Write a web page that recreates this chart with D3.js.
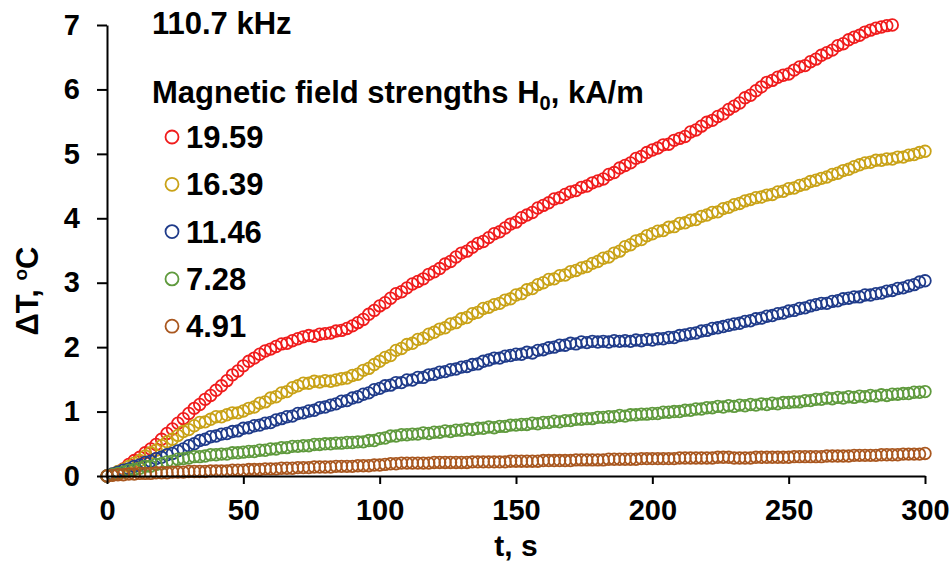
<!DOCTYPE html>
<html>
<head>
<meta charset="utf-8">
<script src="https://cdn.jsdelivr.net/npm/d3@7"></script>
<style>
  body { margin: 0; background: #fff; }
  text { font-family: "Liberation Sans", Arial, sans-serif; font-weight: bold; fill: #000; }
</style>
</head>
<body>
<svg id="chart" width="951" height="565"></svg>
<script>
// Heating curves at 110.7 kHz: temperature rise (°C) sampled every 2 s
const sampleStep = 2;

const fieldLabels = ["19.59", "16.39", "11.46", "7.28", "4.91"];
const seriesColors = ["#f01c1c", "#c9a217", "#1f3b8a", "#5f9a3d", "#a9571f"];

const rise1959 = [
  0.00,0.02,0.05,0.11,0.18,0.24,0.29,0.36,0.42,0.49,
  0.57,0.66,0.73,0.82,0.89,0.97,1.05,1.11,1.19,1.25,
  1.33,1.40,1.48,1.57,1.63,1.71,1.78,1.83,1.89,1.94,
  1.97,2.01,2.05,2.06,2.10,2.13,2.16,2.18,2.17,2.20,
  2.21,2.22,2.25,2.26,2.29,2.33,2.38,2.43,2.51,2.57,
  2.64,2.69,2.76,2.83,2.86,2.92,2.98,3.02,3.06,3.13,
  3.17,3.22,3.29,3.33,3.40,3.46,3.49,3.55,3.61,3.64,
  3.70,3.76,3.79,3.85,3.91,3.94,4.01,4.05,4.09,4.16,
  4.20,4.24,4.30,4.32,4.37,4.41,4.43,4.48,4.50,4.55,
  4.58,4.61,4.68,4.71,4.78,4.82,4.86,4.93,4.96,5.02,
  5.06,5.09,5.14,5.15,5.21,5.24,5.27,5.34,5.37,5.43,
  5.49,5.52,5.58,5.62,5.69,5.74,5.79,5.87,5.91,5.98,
  6.04,6.11,6.14,6.19,6.22,6.24,6.30,6.35,6.37,6.43,
  6.47,6.53,6.57,6.61,6.68,6.71,6.77,6.81,6.84,6.89,
  6.92,6.95,6.97,6.99,7.00
];

const rise1639 = [
  0.00,0.03,0.07,0.10,0.15,0.20,0.24,0.31,0.36,0.40,
  0.47,0.53,0.57,0.63,0.69,0.72,0.78,0.83,0.84,0.88,
  0.92,0.92,0.95,0.98,0.98,1.01,1.05,1.07,1.13,1.15,
  1.21,1.23,1.29,1.31,1.37,1.40,1.44,1.44,1.47,1.46,
  1.48,1.47,1.49,1.51,1.52,1.56,1.58,1.64,1.67,1.73,
  1.78,1.84,1.87,1.95,1.98,2.04,2.06,2.12,2.14,2.20,
  2.23,2.28,2.30,2.36,2.38,2.44,2.46,2.52,2.54,2.60,
  2.62,2.66,2.68,2.73,2.75,2.81,2.83,2.89,2.91,2.97,
  3.00,3.05,3.06,3.11,3.12,3.17,3.19,3.23,3.25,3.30,
  3.33,3.38,3.40,3.46,3.49,3.56,3.59,3.65,3.67,3.73,
  3.76,3.80,3.81,3.86,3.87,3.92,3.93,3.97,3.98,4.03,
  4.05,4.09,4.10,4.15,4.17,4.21,4.23,4.27,4.29,4.32,
  4.33,4.36,4.37,4.41,4.42,4.46,4.47,4.51,4.53,4.57,
  4.59,4.62,4.64,4.68,4.70,4.74,4.76,4.80,4.83,4.86,
  4.87,4.90,4.90,4.92,4.92,4.95,4.95,4.98,4.99,5.02,
  5.04
];

const rise1146 = [
  0.00,0.03,0.06,0.09,0.11,0.15,0.17,0.21,0.23,0.27,
  0.29,0.33,0.35,0.39,0.42,0.47,0.50,0.55,0.57,0.61,
  0.62,0.65,0.66,0.69,0.70,0.74,0.75,0.78,0.79,0.82,
  0.83,0.87,0.89,0.92,0.93,0.97,0.98,1.01,1.02,1.06,
  1.07,1.10,1.12,1.16,1.17,1.21,1.23,1.27,1.29,1.34,
  1.36,1.40,1.41,1.45,1.45,1.49,1.49,1.53,1.53,1.57,
  1.58,1.61,1.62,1.65,1.66,1.69,1.70,1.73,1.74,1.78,
  1.80,1.83,1.83,1.86,1.87,1.89,1.89,1.92,1.91,1.95,
  1.96,1.99,2.00,2.03,2.03,2.06,2.05,2.08,2.07,2.09,
  2.08,2.09,2.08,2.10,2.09,2.10,2.09,2.11,2.10,2.12,
  2.11,2.13,2.13,2.15,2.15,2.18,2.19,2.21,2.22,2.25,
  2.26,2.29,2.30,2.32,2.34,2.36,2.37,2.40,2.41,2.44,
  2.45,2.48,2.49,2.52,2.53,2.56,2.57,2.60,2.61,2.64,
  2.66,2.68,2.68,2.71,2.72,2.75,2.76,2.78,2.78,2.81,
  2.81,2.83,2.84,2.87,2.88,2.91,2.92,2.95,2.97,3.01,
  3.03
];

const rise728 = [
  0.00,0.02,0.04,0.06,0.09,0.10,0.12,0.15,0.15,0.18,
  0.19,0.22,0.23,0.26,0.27,0.28,0.30,0.30,0.31,0.33,
  0.33,0.34,0.34,0.36,0.36,0.37,0.38,0.38,0.40,0.40,
  0.42,0.42,0.44,0.44,0.46,0.46,0.47,0.47,0.49,0.49,
  0.50,0.50,0.51,0.51,0.52,0.52,0.53,0.53,0.55,0.55,
  0.58,0.59,0.62,0.62,0.64,0.64,0.65,0.65,0.67,0.66,
  0.68,0.68,0.70,0.69,0.71,0.71,0.73,0.72,0.74,0.74,
  0.76,0.75,0.77,0.77,0.79,0.79,0.80,0.80,0.82,0.81,
  0.83,0.83,0.85,0.84,0.86,0.86,0.88,0.88,0.89,0.89,
  0.91,0.91,0.92,0.92,0.94,0.93,0.95,0.95,0.96,0.96,
  0.97,0.97,0.99,0.99,1.00,1.00,1.02,1.02,1.04,1.04,
  1.06,1.06,1.08,1.07,1.09,1.08,1.10,1.09,1.11,1.10,
  1.12,1.11,1.13,1.12,1.14,1.14,1.15,1.15,1.17,1.17,
  1.19,1.19,1.21,1.20,1.22,1.21,1.23,1.22,1.24,1.23,
  1.25,1.24,1.26,1.25,1.27,1.27,1.28,1.28,1.30,1.30,
  1.31
];

const rise491 = [
  0.00,0.01,0.02,0.02,0.03,0.03,0.04,0.04,0.04,0.05,
  0.05,0.05,0.06,0.06,0.06,0.07,0.07,0.07,0.07,0.08,
  0.08,0.08,0.08,0.09,0.09,0.09,0.10,0.10,0.10,0.11,
  0.11,0.11,0.12,0.12,0.12,0.13,0.13,0.13,0.14,0.14,
  0.14,0.14,0.15,0.15,0.15,0.15,0.16,0.16,0.16,0.17,
  0.17,0.18,0.19,0.19,0.20,0.20,0.20,0.20,0.20,0.20,
  0.21,0.21,0.21,0.21,0.21,0.21,0.21,0.22,0.22,0.22,
  0.22,0.22,0.22,0.22,0.23,0.23,0.23,0.23,0.23,0.23,
  0.24,0.24,0.24,0.24,0.24,0.24,0.25,0.25,0.25,0.25,
  0.25,0.25,0.26,0.26,0.26,0.26,0.26,0.26,0.27,0.27,
  0.27,0.27,0.27,0.27,0.27,0.28,0.28,0.28,0.28,0.28,
  0.28,0.28,0.29,0.29,0.29,0.28,0.28,0.28,0.28,0.29,
  0.29,0.29,0.29,0.29,0.29,0.29,0.30,0.30,0.30,0.30,
  0.30,0.30,0.31,0.31,0.31,0.31,0.31,0.32,0.32,0.32,
  0.32,0.32,0.33,0.33,0.33,0.33,0.34,0.34,0.34,0.34,
  0.35
];

const seriesValues = [rise1959, rise1639, rise1146, rise728, rise491];

const xTicks = [0, 50, 100, 150, 200, 250, 300];
const yTicks = [0, 1, 2, 3, 4, 5, 6, 7];

const svg = d3.select("#chart");

const x = d3.scaleLinear().domain([0, 300]).range([107, 925]);
const y = d3.scaleLinear().domain([0, 7]).range([476, 25]);

// Data markers: hollow circles, first series at the bottom of the stack
seriesValues.forEach((vals, s) => {
  svg.append("g")
    .selectAll("circle")
    .data(vals.map((v, i) => ({ t: i * sampleStep, v })))
    .join("circle")
    .attr("cx", d => x(d.t))
    .attr("cy", d => y(d.v))
    .attr("r", 5.8)
    .attr("fill", "none")
    .attr("stroke", seriesColors[s])
    .attr("stroke-width", 1.8);
});

// Axes
const yAxis = svg.append("g")
  .attr("transform", `translate(${x(0)},0)`)
  .call(d3.axisLeft(y).tickValues(yTicks).tickFormat(d3.format("d"))
    .tickSize(10).tickSizeOuter(0).tickPadding(17));

const xAxis = svg.append("g")
  .attr("transform", `translate(0,${y(0)})`)
  .call(d3.axisBottom(x).tickValues(xTicks).tickFormat(d3.format("d"))
    .tickSize(8).tickSizeOuter(0).tickPadding(15));

[yAxis, xAxis].forEach(g => {
  g.select(".domain").attr("stroke", "#000").attr("stroke-width", 2);
  g.selectAll(".tick line").attr("stroke", "#000").attr("stroke-width", 2);
  g.selectAll(".tick text")
    .attr("fill", "#000")
    .style("font-family", "'Liberation Sans', Arial, sans-serif")
    .style("font-weight", "bold")
    .style("font-size", "29px");
});

// Axis titles
svg.append("text")
  .attr("x", 516).attr("y", 556)
  .attr("text-anchor", "middle")
  .style("font-size", "30px")
  .text("t, s");

const yTitle = svg.append("text")
  .attr("transform", "translate(38,291) rotate(-90)")
  .attr("text-anchor", "middle")
  .style("font-size", "31px");
yTitle.append("tspan").text("ΔT, ");
yTitle.append("tspan").attr("dy", -11).style("font-size", "19px").text("o");
yTitle.append("tspan").attr("dy", 11).text("C");

// Frequency note and legend heading
svg.append("text")
  .attr("x", 152).attr("y", 34)
  .style("font-size", "31px")
  .text("110.7 kHz");

const heading = svg.append("text")
  .attr("x", 152).attr("y", 103)
  .style("font-size", "31px");
heading.append("tspan").text("Magnetic field strengths H");
heading.append("tspan").attr("dy", 7).style("font-size", "20px").text("0");
heading.append("tspan").attr("dy", -7).text(", kA/m");

// Legend entries
const legend = svg.append("g");
fieldLabels.forEach((lab, i) => {
  const cy = 137 + i * 47.3;
  legend.append("circle")
    .attr("cx", 172).attr("cy", cy).attr("r", 6.5)
    .attr("fill", "none")
    .attr("stroke", seriesColors[i])
    .attr("stroke-width", 1.8);
  legend.append("text")
    .attr("x", 186).attr("y", cy).attr("dy", "0.36em")
    .style("font-size", "31px")
    .text(lab);
});
</script>
</body>
</html>
